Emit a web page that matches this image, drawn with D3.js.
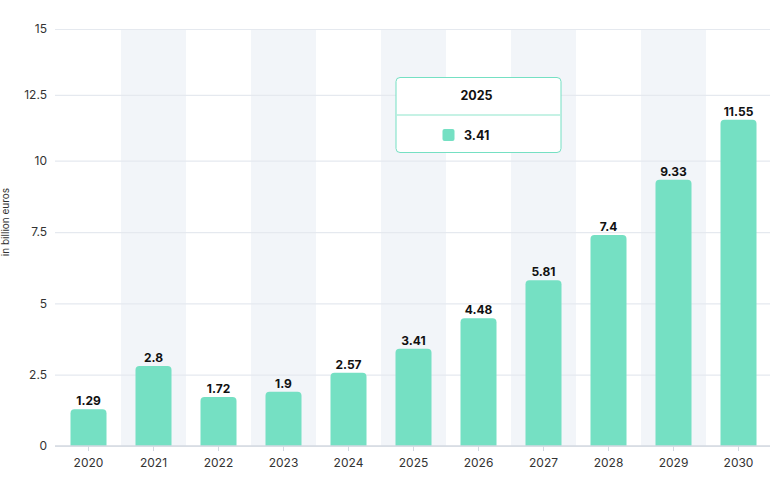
<!DOCTYPE html>
<html>
<head>
<meta charset="utf-8">
<script src="https://cdn.jsdelivr.net/npm/d3@7"></script>
<style>
  body { margin: 0; background: #fff; }
  svg { font-family: Inter, "Noto Sans", sans-serif; display: block; }
</style>
</head>
<body>
<svg width="770" height="491"></svg>
<script>
var years = ["2020", "2021", "2022", "2023", "2024", "2025", "2026", "2027", "2028", "2029", "2030"];
var values = [1.29, 2.8, 1.72, 1.9, 2.57, 3.41, 4.48, 5.81, 7.4, 9.33, 11.55];
var yTicks = [0, 2.5, 5, 7.5, 10, 12.5, 15];
var yTitle = "in billion euros";
var hoverYear = "2025";

var svg = d3.select("svg"),
    plotL = 56, plotR = 771, plotT = 29, plotB = 446;

var x = d3.scaleBand()
    .domain(years)
    .range([plotL, plotR])
    .padding(0);

// the picture's grid is a bit tighter above 10, so the scale bends there
var y = d3.scaleLinear()
    .domain([0, 10, 15])
    .range([plotB, 160.7, plotT]);

var barW = 36, r = 4;
var green = "#75e0c3";

// alternate band shading
svg.append("g")
  .selectAll("rect")
  .data(years.filter(function(d, i) { return i % 2 == 1; }))
  .enter().append("rect")
    .attr("x", function(d) { return x(d); })
    .attr("y", y(15))
    .attr("width", x.bandwidth())
    .attr("height", y(0) - y(15))
    .attr("fill", "#f2f5f9");

// grid + y labels
var yAxis = svg.append("g")
    .attr("transform", "translate(" + (plotL - 1) + ",0)")
    .call(d3.axisLeft(y).tickValues(yTicks).tickSize(-(plotR - plotL + 1)).tickPadding(8).tickFormat(function(d) { return d; }));
yAxis.select(".domain").remove();
yAxis.selectAll("line").attr("stroke", "#e5e9ef").attr("stroke-width", 1.2);
yAxis.selectAll("text").attr("fill", "#333").attr("font-size", 12).attr("font-family", "Inter");

// bars with rounded tops
function barPath(d, i) {
  var cx = x(years[i]) + x.bandwidth() / 2,
      x0 = cx - barW / 2, x1 = cx + barW / 2,
      y0 = y(0), y1 = y(d);
  return "M" + x0 + "," + y0 +
    "V" + (y1 + r) +
    "Q" + x0 + "," + y1 + " " + (x0 + r) + "," + y1 +
    "H" + (x1 - r) +
    "Q" + x1 + "," + y1 + " " + x1 + "," + (y1 + r) +
    "V" + y0 + "Z";
}

svg.append("g")
  .selectAll("path")
  .data(values)
  .enter().append("path")
    .attr("d", barPath)
    .attr("fill", green);

// value labels
svg.append("g")
  .selectAll("text")
  .data(values)
  .enter().append("text")
    .attr("x", function(d, i) { return x(years[i]) + x.bandwidth() / 2; })
    .attr("y", function(d) { return y(d) - 4; })
    .attr("text-anchor", "middle")
    .attr("font-size", 12)
    .attr("font-weight", "bold")
    .attr("fill", "#111")
    .text(function(d) { return d; });

// x axis
var xAxis = svg.append("g")
    .attr("transform", "translate(0," + plotB + ")")
    .call(d3.axisBottom(x).tickSize(5).tickPadding(7).tickSizeOuter(0));
xAxis.select(".domain").attr("stroke", "#d3d9e1").attr("stroke-width", 1.6)
    .attr("d", "M" + (plotL - 1) + ",0H" + plotR);
xAxis.selectAll("line").attr("stroke", "#d3d9e1");
xAxis.selectAll("text").attr("fill", "#333").attr("font-size", 12).attr("font-family", "Inter");

// axis title
svg.append("text")
    .attr("transform", "translate(9," + 222 + ")rotate(-90)")
    .attr("text-anchor", "middle")
    .attr("font-size", 10)
    .attr("fill", "#333")
    .text(yTitle);

// hover tooltip on 2025
var hi = years.indexOf(hoverYear);
var tx = x(hoverYear) + x.bandwidth() / 2 - barW / 2,
    ty = 77, tw = 166, th = 75;
var tip = svg.append("g").attr("transform", "translate(" + tx + "," + ty + ")");
tip.append("rect")
    .attr("x", 0.5).attr("y", 0.5)
    .attr("width", tw - 1).attr("height", th)
    .attr("rx", 4)
    .attr("fill", "#fff")
    .attr("stroke", green);
tip.append("line")
    .attr("x1", 1).attr("x2", tw - 1)
    .attr("y1", 38).attr("y2", 38)
    .attr("stroke", "#b3eedc")
    .attr("stroke-width", 1.5);
tip.append("text")
    .attr("x", tw / 2 - 2)
    .attr("y", 22.5)
    .attr("text-anchor", "middle")
    .attr("font-size", 12.5)
    .attr("font-weight", "bold")
    .attr("fill", "#111")
    .text(hoverYear);
tip.append("rect")
    .attr("x", 47).attr("y", 52)
    .attr("width", 12).attr("height", 12)
    .attr("rx", 2)
    .attr("fill", green);
tip.append("text")
    .attr("x", 68.5)
    .attr("y", 62.5)
    .attr("font-size", 12.5)
    .attr("font-weight", "bold")
    .attr("fill", "#111")
    .text(values[hi]);
</script>
</body>
</html>
